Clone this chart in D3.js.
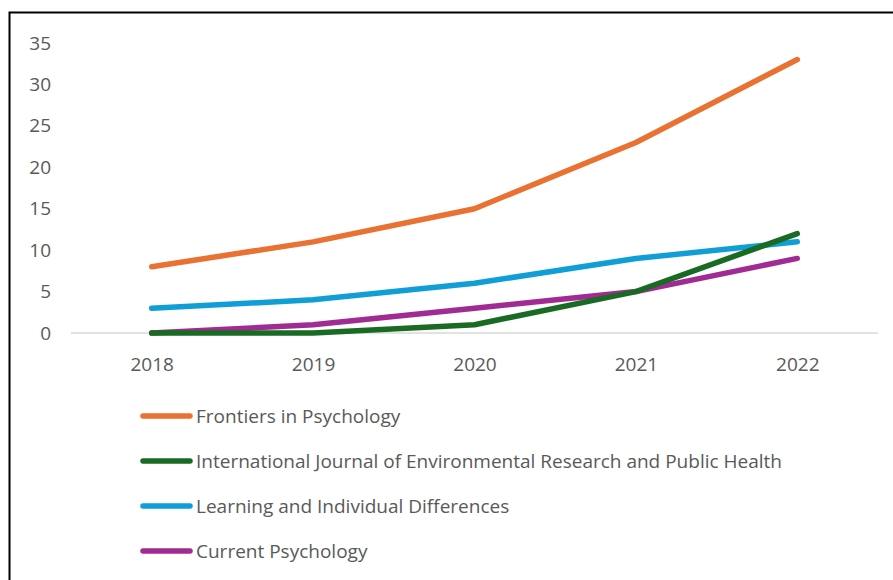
<!DOCTYPE html>
<html>
<head>
<meta charset="utf-8">
<script src="https://cdn.jsdelivr.net/npm/d3@7"></script>
<style>
    body { margin: 0; background: #fff; }
    text { font-family: "Open Sans", sans-serif; fill: #595959; }
</style>
</head>
<body>
<svg width="893" height="580"></svg>
<script>
const years = ['2018', '2019', '2020', '2021', '2022'];
const seriesNames = [
    'Frontiers in Psychology',
    'International Journal of Environmental Research and Public Health',
    'Learning and Individual Differences',
    'Current Psychology'
];
const frontiers = [8, 11, 15, 23, 33];
const ijerph = [0, 0, 1, 5, 12];
const learning = [3, 4, 6, 9, 11];
const currentPsych = [0, 1, 3, 5, 9];
const yTicks = [0, 5, 10, 15, 20, 25, 30, 35];
const colors = ['#E97132', '#196B24', '#0F9ED5', '#A02B93'];

const allSeries = [frontiers, ijerph, learning, currentPsych];

const svg = d3.select('svg');

// chart frame (only top/left visible in the crop)
svg.append('rect')
    .attr('x', 9.5).attr('y', 12.5)
    .attr('width', 1000).attr('height', 1000)
    .attr('fill', '#fff')
    .attr('stroke', '#000')
    .attr('stroke-width', 2);

const xScale = d3.scalePoint()
    .domain(years)
    .range([71, 878])
    .padding(0.5);

const yScale = d3.scaleLinear()
    .domain([0, 35])
    .range([333, 43]);

// y axis labels, no axis line
const yAxisG = svg.append('g')
    .attr('transform', 'translate(51,0)')
    .call(d3.axisLeft(yScale).tickValues(yTicks).tickSize(0).tickPadding(0));
yAxisG.select('.domain').remove();
yAxisG.selectAll('text')
    .attr('font-size', 19)
    .style('font-family', '"Open Sans", sans-serif')
    .attr('fill', '#595959');

// x axis: gray baseline
const xAxisG = svg.append('g')
    .attr('transform', `translate(0,${yScale(0)})`)
    .call(d3.axisBottom(xScale).tickSize(0).tickPadding(25));
xAxisG.select('.domain')
    .attr('stroke', '#d9d9d9')
    .attr('stroke-width', 1.5)
    .attr('d', `M71,0H878`);
xAxisG.selectAll('text')
    .attr('font-size', 19)
    .style('font-family', '"Open Sans", sans-serif')
    .attr('fill', '#595959');

const line = d3.line()
    .x((d, i) => xScale(years[i]))
    .y(d => yScale(d));

// draw back to front so orange sits on top
allSeries.slice().reverse().forEach((s, k) => {
    const i = allSeries.length - 1 - k;
    svg.append('path')
        .datum(s)
        .attr('d', line)
        .attr('fill', 'none')
        .attr('stroke', colors[i])
        .attr('stroke-width', 5.5)
        .attr('stroke-linecap', 'round')
        .attr('stroke-linejoin', 'round');
});

// legend
const legend = svg.append('g');
seriesNames.forEach((name, i) => {
    const y = 416 + i * 45;
    legend.append('line')
        .attr('x1', 143).attr('x2', 190)
        .attr('y1', y).attr('y2', y)
        .attr('stroke', colors[i])
        .attr('stroke-width', 5.5)
        .attr('stroke-linecap', 'round');
    legend.append('text')
        .attr('x', 196).attr('y', y)
        .attr('dy', '0.35em')
        .attr('font-size', 19)
        .text(name);
});
</script>
</body>
</html>
